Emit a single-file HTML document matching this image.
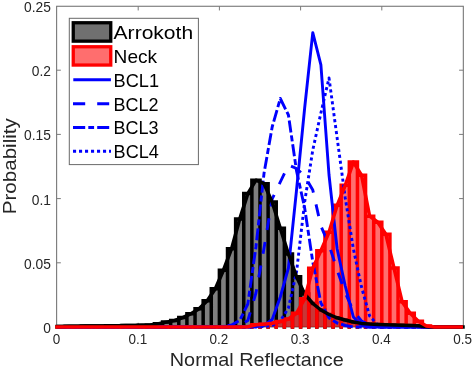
<!DOCTYPE html>
<html><head><meta charset="utf-8"><style>
html,body{margin:0;padding:0;background:#fff;width:473px;height:368px;overflow:hidden}
svg{display:block;will-change:transform}
text{font-family:"Liberation Sans",sans-serif}
</style></head><body>
<svg width="473" height="368" viewBox="0 0 473 368" font-family="'Liberation Sans', sans-serif" fill="#000">
<rect width="473" height="368" fill="#fff"/>
<rect x="56.65" y="6.25" width="406.65" height="320.75" fill="none" stroke="#6a6a6a" stroke-width="1"/>
<line x1="138.20" y1="327.0" x2="138.20" y2="322.8" stroke="#7a7a7a" stroke-width="1"/>
<line x1="138.20" y1="6.25" x2="138.20" y2="10.45" stroke="#7a7a7a" stroke-width="1"/>
<line x1="219.40" y1="327.0" x2="219.40" y2="322.8" stroke="#7a7a7a" stroke-width="1"/>
<line x1="219.40" y1="6.25" x2="219.40" y2="10.45" stroke="#7a7a7a" stroke-width="1"/>
<line x1="300.60" y1="327.0" x2="300.60" y2="322.8" stroke="#7a7a7a" stroke-width="1"/>
<line x1="300.60" y1="6.25" x2="300.60" y2="10.45" stroke="#7a7a7a" stroke-width="1"/>
<line x1="381.80" y1="327.0" x2="381.80" y2="322.8" stroke="#7a7a7a" stroke-width="1"/>
<line x1="381.80" y1="6.25" x2="381.80" y2="10.45" stroke="#7a7a7a" stroke-width="1"/>
<line x1="56.65" y1="262.80" x2="60.85" y2="262.80" stroke="#7a7a7a" stroke-width="1"/>
<line x1="463.3" y1="262.80" x2="459.1" y2="262.80" stroke="#7a7a7a" stroke-width="1"/>
<line x1="56.65" y1="198.60" x2="60.85" y2="198.60" stroke="#7a7a7a" stroke-width="1"/>
<line x1="463.3" y1="198.60" x2="459.1" y2="198.60" stroke="#7a7a7a" stroke-width="1"/>
<line x1="56.65" y1="134.40" x2="60.85" y2="134.40" stroke="#7a7a7a" stroke-width="1"/>
<line x1="463.3" y1="134.40" x2="459.1" y2="134.40" stroke="#7a7a7a" stroke-width="1"/>
<line x1="56.65" y1="70.20" x2="60.85" y2="70.20" stroke="#7a7a7a" stroke-width="1"/>
<line x1="463.3" y1="70.20" x2="459.1" y2="70.20" stroke="#7a7a7a" stroke-width="1"/>
<g clip-path="url(#clip)">
<rect x="57.00" y="326.40" width="8.12" height="0.60" fill="#000000" fill-opacity="0.5"/>
<rect x="65.12" y="326.30" width="8.12" height="0.70" fill="#000000" fill-opacity="0.5"/>
<rect x="73.24" y="326.20" width="8.12" height="0.80" fill="#000000" fill-opacity="0.5"/>
<rect x="81.36" y="326.10" width="8.12" height="0.90" fill="#000000" fill-opacity="0.5"/>
<rect x="89.48" y="326.00" width="8.12" height="1.00" fill="#000000" fill-opacity="0.5"/>
<rect x="97.60" y="325.90" width="8.12" height="1.10" fill="#000000" fill-opacity="0.5"/>
<rect x="105.72" y="325.80" width="8.12" height="1.20" fill="#000000" fill-opacity="0.5"/>
<rect x="113.84" y="325.70" width="8.12" height="1.30" fill="#000000" fill-opacity="0.5"/>
<rect x="121.96" y="325.60" width="8.12" height="1.40" fill="#000000" fill-opacity="0.5"/>
<rect x="130.08" y="325.50" width="8.12" height="1.50" fill="#000000" fill-opacity="0.5"/>
<rect x="138.20" y="325.30" width="8.12" height="1.70" fill="#000000" fill-opacity="0.5"/>
<rect x="146.32" y="325.00" width="8.12" height="2.00" fill="#000000" fill-opacity="0.5"/>
<rect x="154.44" y="323.80" width="8.12" height="3.20" fill="#000000" fill-opacity="0.5"/>
<rect x="162.56" y="322.10" width="8.12" height="4.90" fill="#000000" fill-opacity="0.5"/>
<rect x="170.68" y="320.50" width="8.12" height="6.50" fill="#000000" fill-opacity="0.5"/>
<rect x="178.80" y="317.60" width="8.12" height="9.40" fill="#000000" fill-opacity="0.5"/>
<rect x="186.92" y="313.70" width="8.12" height="13.30" fill="#000000" fill-opacity="0.5"/>
<rect x="195.04" y="308.70" width="8.12" height="18.30" fill="#000000" fill-opacity="0.5"/>
<rect x="203.16" y="300.70" width="8.12" height="26.30" fill="#000000" fill-opacity="0.5"/>
<rect x="211.28" y="288.70" width="8.12" height="38.30" fill="#000000" fill-opacity="0.5"/>
<rect x="219.40" y="270.20" width="8.12" height="56.80" fill="#000000" fill-opacity="0.5"/>
<rect x="227.52" y="248.70" width="8.12" height="78.30" fill="#000000" fill-opacity="0.5"/>
<rect x="235.64" y="219.10" width="8.12" height="107.90" fill="#000000" fill-opacity="0.5"/>
<rect x="243.76" y="193.60" width="8.12" height="133.40" fill="#000000" fill-opacity="0.5"/>
<rect x="251.88" y="180.20" width="8.12" height="146.80" fill="#000000" fill-opacity="0.5"/>
<rect x="260.00" y="183.70" width="8.12" height="143.30" fill="#000000" fill-opacity="0.5"/>
<rect x="268.12" y="202.10" width="8.12" height="124.90" fill="#000000" fill-opacity="0.5"/>
<rect x="276.24" y="228.20" width="8.12" height="98.80" fill="#000000" fill-opacity="0.5"/>
<rect x="284.36" y="254.00" width="8.12" height="73.00" fill="#000000" fill-opacity="0.5"/>
<rect x="292.48" y="276.70" width="8.12" height="50.30" fill="#000000" fill-opacity="0.5"/>
<rect x="300.60" y="294.00" width="8.12" height="33.00" fill="#000000" fill-opacity="0.5"/>
<rect x="308.72" y="303.50" width="8.12" height="23.50" fill="#000000" fill-opacity="0.5"/>
<rect x="316.84" y="310.00" width="8.12" height="17.00" fill="#000000" fill-opacity="0.5"/>
<rect x="324.96" y="314.50" width="8.12" height="12.50" fill="#000000" fill-opacity="0.5"/>
<rect x="333.08" y="317.80" width="8.12" height="9.20" fill="#000000" fill-opacity="0.5"/>
<rect x="341.20" y="320.00" width="8.12" height="7.00" fill="#000000" fill-opacity="0.5"/>
<rect x="349.32" y="322.00" width="8.12" height="5.00" fill="#000000" fill-opacity="0.5"/>
<rect x="357.44" y="323.40" width="8.12" height="3.60" fill="#000000" fill-opacity="0.5"/>
<rect x="365.56" y="324.00" width="8.12" height="3.00" fill="#000000" fill-opacity="0.5"/>
<rect x="373.68" y="324.40" width="8.12" height="2.60" fill="#000000" fill-opacity="0.5"/>
<rect x="381.80" y="324.80" width="8.12" height="2.20" fill="#000000" fill-opacity="0.5"/>
<rect x="389.92" y="325.10" width="8.12" height="1.90" fill="#000000" fill-opacity="0.5"/>
<rect x="398.04" y="325.30" width="8.12" height="1.70" fill="#000000" fill-opacity="0.5"/>
<rect x="406.16" y="325.50" width="8.12" height="1.50" fill="#000000" fill-opacity="0.5"/>
<rect x="414.28" y="325.80" width="8.12" height="1.20" fill="#000000" fill-opacity="0.5"/>
<rect x="422.40" y="326.80" width="8.12" height="0.20" fill="#000000" fill-opacity="0.5"/>
<path d="M57.00,327.00V326.40H65.12V327.00M65.12,327.00V326.30H73.24V327.00M73.24,327.00V326.20H81.36V327.00M81.36,327.00V326.10H89.48V327.00M89.48,327.00V326.00H97.60V327.00M97.60,327.00V325.90H105.72V327.00M105.72,327.00V325.80H113.84V327.00M113.84,327.00V325.70H121.96V327.00M121.96,327.00V325.60H130.08V327.00M130.08,327.00V325.50H138.20V327.00M138.20,327.00V325.30H146.32V327.00M146.32,327.00V325.00H154.44V327.00M154.44,327.00V323.80H162.56V327.00M162.56,327.00V322.10H170.68V327.00M170.68,327.00V320.50H178.80V327.00M178.80,327.00V317.60H186.92V327.00M186.92,327.00V313.70H195.04V327.00M195.04,327.00V308.70H203.16V327.00M203.16,327.00V300.70H211.28V327.00M211.28,327.00V288.70H219.40V327.00M219.40,327.00V270.20H227.52V327.00M227.52,327.00V248.70H235.64V327.00M235.64,327.00V219.10H243.76V327.00M243.76,327.00V193.60H251.88V327.00M251.88,327.00V180.20H260.00V327.00M260.00,327.00V183.70H268.12V327.00M268.12,327.00V202.10H276.24V327.00M276.24,327.00V228.20H284.36V327.00M284.36,327.00V254.00H292.48V327.00M292.48,327.00V276.70H300.60V327.00M300.60,327.00V294.00H308.72V327.00M308.72,327.00V303.50H316.84V327.00M316.84,327.00V310.00H324.96V327.00M324.96,327.00V314.50H333.08V327.00M333.08,327.00V317.80H341.20V327.00M341.20,327.00V320.00H349.32V327.00M349.32,327.00V322.00H357.44V327.00M357.44,327.00V323.40H365.56V327.00M365.56,327.00V324.00H373.68V327.00M373.68,327.00V324.40H381.80V327.00M381.80,327.00V324.80H389.92V327.00M389.92,327.00V325.10H398.04V327.00M398.04,327.00V325.30H406.16V327.00M406.16,327.00V325.50H414.28V327.00M414.28,327.00V325.80H422.40V327.00M422.40,327.00V326.80H430.52V327.00M430.52,327.00H438.64M438.64,327.00H446.76M446.76,327.00H454.88M454.88,327.00H463.00" fill="none" stroke="#000000" stroke-width="3.5" stroke-linejoin="miter" stroke-linecap="square"/>
<rect x="243.76" y="326.80" width="8.12" height="0.20" fill="#ff0000" fill-opacity="0.57"/>
<rect x="251.88" y="324.80" width="8.12" height="2.20" fill="#ff0000" fill-opacity="0.57"/>
<rect x="260.00" y="324.30" width="8.12" height="2.70" fill="#ff0000" fill-opacity="0.57"/>
<rect x="268.12" y="323.20" width="8.12" height="3.80" fill="#ff0000" fill-opacity="0.57"/>
<rect x="276.24" y="321.50" width="8.12" height="5.50" fill="#ff0000" fill-opacity="0.57"/>
<rect x="284.36" y="319.00" width="8.12" height="8.00" fill="#ff0000" fill-opacity="0.57"/>
<rect x="292.48" y="313.30" width="8.12" height="13.70" fill="#ff0000" fill-opacity="0.57"/>
<rect x="300.60" y="298.70" width="8.12" height="28.30" fill="#ff0000" fill-opacity="0.57"/>
<rect x="308.72" y="268.30" width="8.12" height="58.70" fill="#ff0000" fill-opacity="0.57"/>
<rect x="316.84" y="250.80" width="8.12" height="76.20" fill="#ff0000" fill-opacity="0.57"/>
<rect x="324.96" y="232.30" width="8.12" height="94.70" fill="#ff0000" fill-opacity="0.57"/>
<rect x="333.08" y="205.30" width="8.12" height="121.70" fill="#ff0000" fill-opacity="0.57"/>
<rect x="341.20" y="185.30" width="8.12" height="141.70" fill="#ff0000" fill-opacity="0.57"/>
<rect x="349.32" y="162.10" width="8.12" height="164.90" fill="#ff0000" fill-opacity="0.57"/>
<rect x="357.44" y="175.20" width="8.12" height="151.80" fill="#ff0000" fill-opacity="0.57"/>
<rect x="365.56" y="216.20" width="8.12" height="110.80" fill="#ff0000" fill-opacity="0.57"/>
<rect x="373.68" y="222.20" width="8.12" height="104.80" fill="#ff0000" fill-opacity="0.57"/>
<rect x="381.80" y="234.30" width="8.12" height="92.70" fill="#ff0000" fill-opacity="0.57"/>
<rect x="389.92" y="268.00" width="8.12" height="59.00" fill="#ff0000" fill-opacity="0.57"/>
<rect x="398.04" y="301.70" width="8.12" height="25.30" fill="#ff0000" fill-opacity="0.57"/>
<rect x="406.16" y="313.20" width="8.12" height="13.80" fill="#ff0000" fill-opacity="0.57"/>
<rect x="414.28" y="321.30" width="8.12" height="5.70" fill="#ff0000" fill-opacity="0.57"/>
<rect x="422.40" y="326.00" width="8.12" height="1.00" fill="#ff0000" fill-opacity="0.57"/>
<path d="M57.00,327.00H65.12M65.12,327.00H73.24M73.24,327.00H81.36M81.36,327.00H89.48M89.48,327.00H97.60M97.60,327.00H105.72M105.72,327.00H113.84M113.84,327.00H121.96M121.96,327.00H130.08M130.08,327.00H138.20M138.20,327.00H146.32M146.32,327.00H154.44M154.44,327.00H162.56M162.56,327.00H170.68M170.68,327.00H178.80M178.80,327.00H186.92M186.92,327.00H195.04M195.04,327.00H203.16M203.16,327.00H211.28M211.28,327.00H219.40M219.40,327.00H227.52M227.52,327.00H235.64M235.64,327.00H243.76M243.76,327.00V326.80H251.88V327.00M251.88,327.00V324.80H260.00V327.00M260.00,327.00V324.30H268.12V327.00M268.12,327.00V323.20H276.24V327.00M276.24,327.00V321.50H284.36V327.00M284.36,327.00V319.00H292.48V327.00M292.48,327.00V313.30H300.60V327.00M300.60,327.00V298.70H308.72V327.00M308.72,327.00V268.30H316.84V327.00M316.84,327.00V250.80H324.96V327.00M324.96,327.00V232.30H333.08V327.00M333.08,327.00V205.30H341.20V327.00M341.20,327.00V185.30H349.32V327.00M349.32,327.00V162.10H357.44V327.00M357.44,327.00V175.20H365.56V327.00M365.56,327.00V216.20H373.68V327.00M373.68,327.00V222.20H381.80V327.00M381.80,327.00V234.30H389.92V327.00M389.92,327.00V268.00H398.04V327.00M398.04,327.00V301.70H406.16V327.00M406.16,327.00V313.20H414.28V327.00M414.28,327.00V321.30H422.40V327.00M422.40,327.00V326.00H430.52V327.00M430.52,327.00H438.64M438.64,327.00H446.76M446.76,327.00H454.88M454.88,327.00H463.00" fill="none" stroke="#ff0000" stroke-width="3.5" stroke-linejoin="miter" stroke-linecap="square" clip-path="url(#clipn)"/>
<polyline points="57.00,327.00 61.06,327.00 69.18,327.00 77.30,327.00 85.42,327.00 93.54,327.00 101.66,327.00 109.78,327.00 117.90,327.00 126.02,327.00 134.14,327.00 142.26,327.00 150.38,327.00 158.50,327.00 166.62,327.00 174.74,327.00 182.86,327.00 190.98,327.00 199.10,327.00 207.22,327.00 215.34,327.00 223.46,327.00 231.58,327.00 239.70,327.00 247.82,327.00 255.94,326.50 264.06,325.50 272.18,319.50 280.30,297.00 288.42,268.00 296.54,190.00 304.66,108.00 312.78,32.60 320.90,64.80 329.02,175.00 337.14,249.00 345.26,286.00 353.38,317.00 361.50,325.50 369.62,327.00 377.74,327.00 385.86,327.00 393.98,327.00 402.10,327.00 410.22,327.00 418.34,327.00 426.46,327.00 434.58,327.00 442.70,327.00 450.82,327.00 458.94,327.00 463.00,327.00" fill="none" stroke="#0000ff" stroke-width="2.9" stroke-linejoin="round"/>
<polyline points="57.00,327.00 61.06,327.00 69.18,327.00 77.30,327.00 85.42,327.00 93.54,327.00 101.66,327.00 109.78,327.00 117.90,327.00 126.02,327.00 134.14,327.00 142.26,327.00 150.38,327.00 158.50,327.00 166.62,327.00 174.74,327.00 182.86,327.00 190.98,327.00 199.10,327.00 207.22,327.00 215.34,327.00 223.46,327.00 231.58,326.50 239.70,325.50 247.82,320.50 255.94,293.00 264.06,248.00 272.18,199.00 280.30,182.00 288.42,165.00 296.54,168.50 304.66,176.00 312.78,190.00 320.90,226.00 329.02,245.00 337.14,270.00 345.26,293.00 353.38,311.00 361.50,321.00 369.62,325.00 377.74,327.00 385.86,327.00 393.98,327.00 402.10,327.00 410.22,327.00 418.34,327.00 426.46,327.00 434.58,327.00 442.70,327.00 450.82,327.00 458.94,327.00 463.00,327.00" fill="none" stroke="#0000ff" stroke-width="2.9" stroke-linejoin="round" stroke-dasharray="12 12" stroke-dashoffset="3.14"/>
<polyline points="57.00,327.00 61.06,327.00 69.18,327.00 77.30,327.00 85.42,327.00 93.54,327.00 101.66,327.00 109.78,327.00 117.90,327.00 126.02,327.00 134.14,327.00 142.26,327.00 150.38,327.00 158.50,327.00 166.62,327.00 174.74,327.00 182.86,327.00 190.98,327.00 199.10,327.00 207.22,327.00 215.34,327.00 223.46,326.50 231.58,325.00 239.70,320.50 247.82,304.00 255.94,247.00 264.06,173.00 272.18,127.00 280.30,98.50 288.42,115.00 296.54,171.00 304.66,208.00 312.78,262.00 320.90,303.00 329.02,318.00 337.14,323.00 345.26,325.50 353.38,327.00 361.50,327.00 369.62,327.00 377.74,327.00 385.86,327.00 393.98,327.00 402.10,327.00 410.22,327.00 418.34,327.00 426.46,327.00 434.58,327.00 442.70,327.00 450.82,327.00 458.94,327.00 463.00,327.00" fill="none" stroke="#0000ff" stroke-width="2.9" stroke-linejoin="round" stroke-dasharray="12 3 6 3" stroke-dashoffset="21.23"/>
<polyline points="57.00,327.00 61.06,327.00 69.18,327.00 77.30,327.00 85.42,327.00 93.54,327.00 101.66,327.00 109.78,327.00 117.90,327.00 126.02,327.00 134.14,327.00 142.26,327.00 150.38,327.00 158.50,327.00 166.62,327.00 174.74,327.00 182.86,327.00 190.98,327.00 199.10,327.00 207.22,327.00 215.34,327.00 223.46,327.00 231.58,327.00 239.70,327.00 247.82,327.00 255.94,327.00 264.06,326.50 272.18,325.50 280.30,321.00 288.42,308.00 296.54,272.00 304.66,202.00 312.78,150.00 320.90,113.00 329.02,78.00 337.14,138.00 345.26,198.00 353.38,249.00 361.50,287.00 369.62,316.00 377.74,325.00 385.86,327.00 393.98,327.00 402.10,327.00 410.22,327.00 418.34,327.00 426.46,327.00 434.58,327.00 442.70,327.00 450.82,327.00 458.94,327.00 463.00,327.00" fill="none" stroke="#0000ff" stroke-width="2.9" stroke-linejoin="round" stroke-dasharray="3.1 2.9" stroke-dashoffset="0.82"/>
<polyline points="57.00,326.40 61.06,326.40 69.18,326.30 77.30,326.20 85.42,326.10 93.54,326.00 101.66,325.90 109.78,325.80 117.90,325.70 126.02,325.60 134.14,325.50 142.26,325.30 150.38,325.00 158.50,323.80 166.62,322.10 174.74,320.50 182.86,317.60 190.98,313.70 199.10,308.70 207.22,300.70 215.34,288.70 223.46,270.20 231.58,248.70 239.70,219.10 247.82,193.60 255.94,180.20 264.06,183.70 272.18,202.10 280.30,228.20 288.42,254.00 296.54,276.70 304.66,294.00 312.78,303.50 320.90,310.00 329.02,314.50 337.14,317.80 345.26,320.00 353.38,322.00 361.50,323.40 369.62,324.00 377.74,324.40 385.86,324.80 393.98,325.10 402.10,325.30 410.22,325.50 418.34,325.80 426.46,326.80 434.58,327.00 442.70,327.00 450.82,327.00 458.94,327.00 463.00,327.00" fill="none" stroke="#000000" stroke-width="3.5" stroke-linejoin="round"/>
<polyline points="57.00,327.00 61.06,327.00 69.18,327.00 77.30,327.00 85.42,327.00 93.54,327.00 101.66,327.00 109.78,327.00 117.90,327.00 126.02,327.00 134.14,327.00 142.26,327.00 150.38,327.00 158.50,327.00 166.62,327.00 174.74,327.00 182.86,327.00 190.98,327.00 199.10,327.00 207.22,327.00 215.34,327.00 223.46,327.00 231.58,327.00 239.70,327.00 247.82,326.80 255.94,324.80 264.06,324.30 272.18,323.20 280.30,321.50 288.42,319.00 296.54,313.30 304.66,298.70 312.78,268.30 320.90,250.80 329.02,232.30 337.14,205.30 345.26,185.30 353.38,162.10 361.50,175.20 369.62,216.20 377.74,222.20 385.86,234.30 393.98,268.00 402.10,301.70 410.22,313.20 418.34,321.30 426.46,326.00 434.58,327.00 442.70,327.00 450.82,327.00 458.94,327.00 463.00,327.00" fill="none" stroke="#ff0000" stroke-width="3.5" stroke-linejoin="round"/>
</g>
<g fill="#262626">
<text x="56.60" y="344.1" font-size="14.5" text-anchor="middle" textLength="7.51" lengthAdjust="spacingAndGlyphs">0</text>
<text x="137.80" y="344.1" font-size="14.5" text-anchor="middle" textLength="18.76" lengthAdjust="spacingAndGlyphs">0.1</text>
<text x="219.00" y="344.1" font-size="14.5" text-anchor="middle" textLength="18.76" lengthAdjust="spacingAndGlyphs">0.2</text>
<text x="300.20" y="344.1" font-size="14.5" text-anchor="middle" textLength="18.76" lengthAdjust="spacingAndGlyphs">0.3</text>
<text x="381.40" y="344.1" font-size="14.5" text-anchor="middle" textLength="18.76" lengthAdjust="spacingAndGlyphs">0.4</text>
<text x="462.60" y="344.1" font-size="14.5" text-anchor="middle" textLength="18.76" lengthAdjust="spacingAndGlyphs">0.5</text>
<text x="50.9" y="333.00" font-size="14.5" text-anchor="end" textLength="7.67" lengthAdjust="spacingAndGlyphs">0</text>
<text x="50.9" y="268.80" font-size="14.5" text-anchor="end" textLength="26.85" lengthAdjust="spacingAndGlyphs">0.05</text>
<text x="50.9" y="204.60" font-size="14.5" text-anchor="end" textLength="19.18" lengthAdjust="spacingAndGlyphs">0.1</text>
<text x="50.9" y="140.40" font-size="14.5" text-anchor="end" textLength="26.85" lengthAdjust="spacingAndGlyphs">0.15</text>
<text x="50.9" y="76.20" font-size="14.5" text-anchor="end" textLength="19.18" lengthAdjust="spacingAndGlyphs">0.2</text>
<text x="50.9" y="12.00" font-size="14.5" text-anchor="end" textLength="26.85" lengthAdjust="spacingAndGlyphs">0.25</text>
<text x="169.8" y="365.6" font-size="19" text-anchor="start" textLength="174.0" lengthAdjust="spacingAndGlyphs">Normal Reflectance</text>
<text transform="translate(16.3,214.2) rotate(-90)" font-size="19" textLength="96" lengthAdjust="spacingAndGlyphs">Probability</text>
</g>
<g fill="#000">
<rect x="69.3" y="18.3" width="129.1" height="146.3" fill="#ffffff" stroke="#6a6a6a" stroke-width="1"/>
<rect x="73.25" y="22.75" width="37.5" height="18.4" fill="#000" fill-opacity="0.56" stroke="#000" stroke-width="3.3"/>
<rect x="73.25" y="46.75" width="37.5" height="18.3" fill="#f00" fill-opacity="0.57" stroke="#f00" stroke-width="3.3"/>
<line x1="73.3" y1="79.8" x2="110.9" y2="79.8" stroke="#00f" stroke-width="3"/>
<line x1="73" y1="103.7" x2="109.2" y2="103.7" stroke="#00f" stroke-width="3" stroke-dasharray="12.2 12"/>
<line x1="73" y1="127.6" x2="109.2" y2="127.6" stroke="#00f" stroke-width="3" stroke-dasharray="12.2 3.1 5.8 3.1"/>
<line x1="73" y1="151.2" x2="111" y2="151.2" stroke="#00f" stroke-width="3" stroke-dasharray="3.1 2.9"/>
<text x="113.6" y="38.5" font-size="19" text-anchor="start" textLength="79.5" lengthAdjust="spacingAndGlyphs">Arrokoth</text>
<text x="113.6" y="62.5" font-size="19" text-anchor="start" textLength="43.5" lengthAdjust="spacingAndGlyphs">Neck</text>
<text x="113.6" y="87.0" font-size="19" text-anchor="start" textLength="45.5" lengthAdjust="spacingAndGlyphs">BCL1</text>
<text x="113.6" y="110.5" font-size="19" text-anchor="start" textLength="45.0" lengthAdjust="spacingAndGlyphs">BCL2</text>
<text x="113.6" y="134.3" font-size="19" text-anchor="start" textLength="45.0" lengthAdjust="spacingAndGlyphs">BCL3</text>
<text x="113.6" y="157.5" font-size="19" text-anchor="start" textLength="45.2" lengthAdjust="spacingAndGlyphs">BCL4</text>
</g>
<defs><clipPath id="clip"><rect x="50" y="3" width="420" height="330"/></clipPath><clipPath id="clipn"><rect x="50" y="3" width="412.9" height="330"/></clipPath></defs>
</svg>
</body></html>
